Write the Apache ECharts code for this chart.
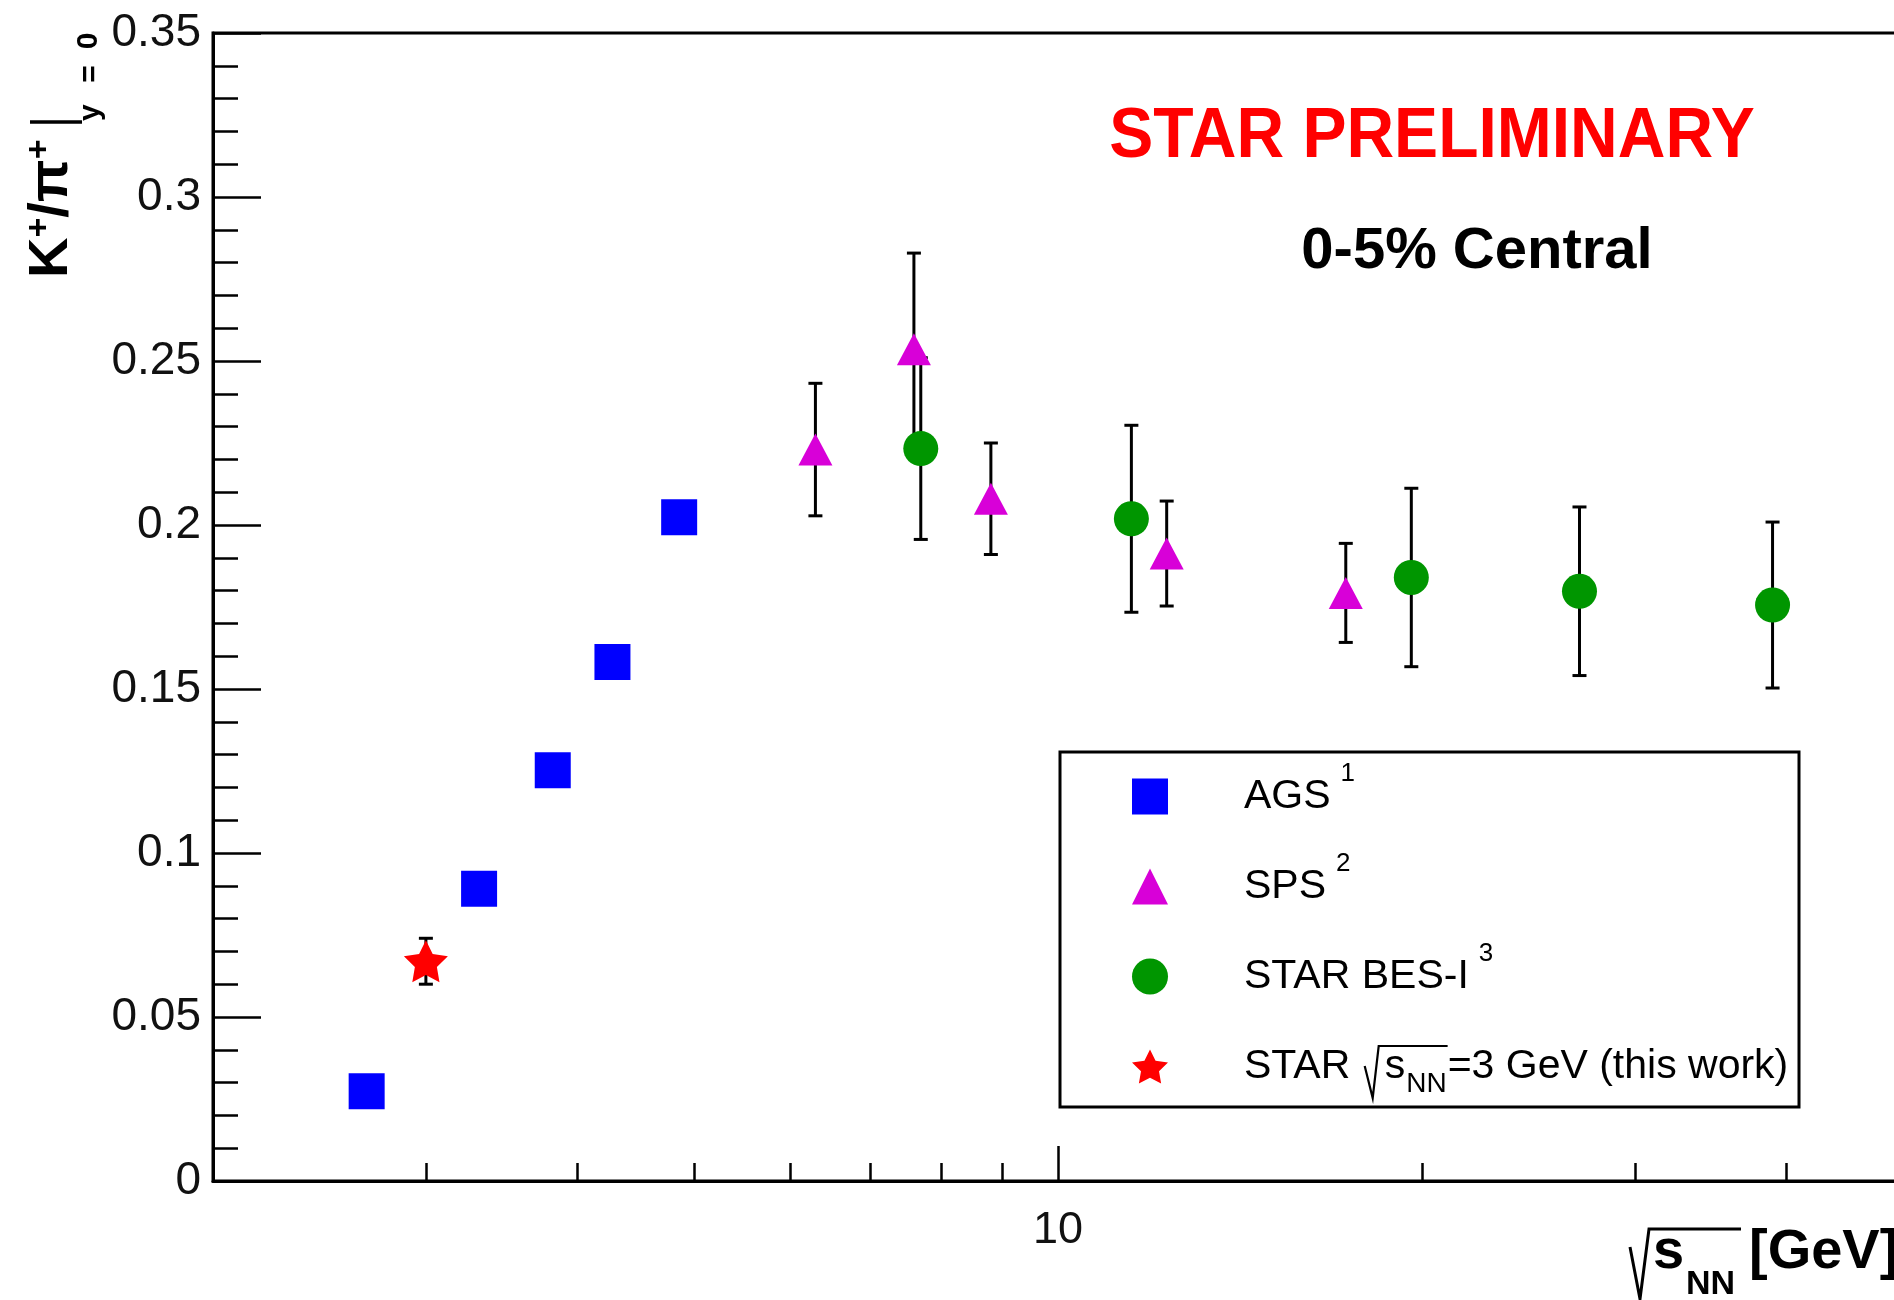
<!DOCTYPE html>
<html>
<head>
<meta charset="utf-8">
<script src="https://cdn.jsdelivr.net/npm/echarts@6/dist/echarts.min.js"></script>
<style>
  html, body { margin: 0; padding: 0; background: #fff; }
  #chart { width: 1894px; height: 1300px; }
</style>
</head>
<body>
<div id="chart"></div>
<script>
// K+/pi+ at mid-rapidity vs collision energy, 0-5% central

// AGS
const agsEnergy = [2.68, 3.32, 3.82, 4.28, 4.86];
const agsRatio  = [0.0274, 0.0891, 0.1252, 0.1582, 0.2024];

// SPS
const spsEnergy = [6.3, 7.6, 8.8, 12.3, 17.3];
const spsRatio  = [0.223, 0.2536, 0.208, 0.1913, 0.1793];
const spsError  = [0.0202, 0.0293, 0.0170, 0.0160, 0.0151];

// STAR BES-I
const besEnergy = [7.7, 11.5, 19.6, 27, 39];
const besRatio  = [0.2233, 0.2019, 0.1840, 0.1798, 0.1756];
const besError  = [0.0277, 0.0285, 0.0272, 0.0257, 0.0253];

// STAR fixed target, 3 GeV
const fxtEnergy = [3.0];
const fxtRatio  = [0.0670];
const fxtError  = [0.0070];

// axis ticks
const xMajorTicks = [10];
const xMinorTicks = [3, 4, 5, 6, 7, 8, 9, 20, 30, 40];
const yMin = 0, yMax = 0.35, yStep = 0.05;

// legend entries and their reference marks
const legendNames = ['AGS', 'SPS', 'STAR BES-I', 'STAR 3 GeV'];
const legendRefs = ['1', '2', '3'];

const FONT = '"Liberation Sans", Arial, Helvetica, sans-serif';
const STAR_PATH = 'path://M50,0 L64.69,29.78 L97.55,34.55 L73.78,57.73 L79.39,90.45 L50,75 L20.61,90.45 L26.22,57.73 L2.45,34.55 L35.31,29.78 Z';

const pairs = (xs, ys) => xs.map((x, i) => [x, ys[i]]);
const triples = (xs, ys, es) => xs.map((x, i) => [x, ys[i], es[i]]);

function errorBars(params, api) {
  const x = api.value(0), y = api.value(1), e = api.value(2);
  const top = api.coord([x, y + e]);
  const bot = api.coord([x, y - e]);
  const hw = 7;
  const st = { stroke: '#000', lineWidth: 3 };
  return {
    type: 'group',
    children: [
      { type: 'line', shape: { x1: top[0], y1: top[1], x2: bot[0], y2: bot[1] }, style: st },
      { type: 'line', shape: { x1: top[0] - hw, y1: top[1], x2: top[0] + hw, y2: top[1] }, style: st },
      { type: 'line', shape: { x1: bot[0] - hw, y1: bot[1], x2: bot[0] + hw, y2: bot[1] }, style: st }
    ]
  };
}

// text measurement helper
const mctx = document.createElement('canvas').getContext('2d');
function textW(str, font) { mctx.font = font; return mctx.measureText(str).width; }

// legend layout
const LEG_LEFT = 1132, LEG_TOP = 776, LEG_ICON = 36, LEG_PITCH = 90, LEG_TEXT_H = 41;
const LEG_TEXT_X = LEG_LEFT + LEG_ICON + 5 + 71;
const legFont = '41px ' + FONT;
const supFont = '26px ' + FONT;
const nnFont = '28px ' + FONT;
const rowCenter = (i) => LEG_TOP + LEG_ICON / 2 + i * LEG_PITCH;
const sX = LEG_TEXT_X + textW('STAR ', legFont) + 23;
const nnX = sX + textW('s', legFont) + 1;
const nnW = textW('NN', nnFont);

const legendLabels = {
  'AGS': '{t|AGS}',
  'SPS': '{t|SPS}',
  'STAR BES-I': '{t|STAR BES-I}',
  'STAR 3 GeV': '{t|STAR }{s|s}{r|=3 GeV (this work)}'
};

function legendMarks() {
  const els = [];
  ['AGS', 'SPS', 'STAR BES-I'].forEach((n, i) => {
    els.push({ type: 'text', z: 10, x: LEG_TEXT_X + textW(n, legFont) + 10, y: rowCenter(i) - 20,
      style: { text: legendRefs[i], font: supFont, fill: '#000', align: 'left', verticalAlign: 'middle' } });
  });
  const c = rowCenter(3);
  els.push({ type: 'text', z: 10, x: nnX, y: c + 20,
    style: { text: 'NN', font: nnFont, fill: '#000', align: 'left', verticalAlign: 'middle' } });
  els.push({ type: 'polyline', z: 10,
    shape: { points: [[sX - 20, c + 2], [sX - 12, c + 34], [sX - 6, c - 18], [nnX + nnW + 1, c - 18]] },
    style: { stroke: '#000', lineWidth: 2.2, fill: null } });
  return els;
}

function yTitle() {
  const big = 'bold 56px ' + FONT;
  const sup = 'bold 34px ' + FONT;
  const sub = 'bold 30px ' + FONT;
  const els = [];
  const rot = Math.PI / 2;
  let y = 278;
  const add = (txt, font, cx, align) => {
    els.push({ type: 'text', x: cx, y: y, rotation: rot, z: 10,
      style: { text: txt, font: font, fill: '#000', align: align || 'left', verticalAlign: 'middle' } });
  };
  add('K', big, 52); y -= textW('K', big);
  add('+', sup, 40); y -= textW('+', sup);
  add('/\u03c0', big, 52); y -= textW('/\u03c0', big);
  add('+', sup, 40); y -= textW('+', sup);
  els.push({ type: 'line', z: 10, shape: { x1: 30, y1: 122, x2: 82, y2: 122 }, style: { stroke: '#000', lineWidth: 3.5 } });
  y = 121; add('y', sub, 91);
  y = 74; add('=', sub, 91, 'center');
  y = 41; add('0', sub, 89, 'center');
  return els;
}

const chart = echarts.init(document.getElementById('chart'), null, { renderer: 'canvas' });

const axisLineStyle = { color: '#000', width: 3 };
const tickStyle = { color: '#000', width: 2.5 };

chart.setOption({
  animation: false,
  backgroundColor: '#fff',
  textStyle: { fontFamily: FONT },
  grid: {
    left: 213, top: 33, right: -9, bottom: 119,
    show: true, borderColor: '#000', borderWidth: 3,
    containLabel: false, outerBoundsMode: 'none'
  },
  xAxis: [
    {
      type: 'log', logBase: 10, min: 2, max: 50, position: 'bottom',
      axisLine: { show: true, onZero: false, lineStyle: axisLineStyle },
      axisTick: { show: true, inside: true, length: 35, customValues: xMajorTicks, lineStyle: tickStyle },
      axisLabel: { show: true, customValues: xMajorTicks, fontSize: 45, color: '#111', fontFamily: FONT, margin: 27 },
      splitLine: { show: false }
    },
    {
      type: 'log', logBase: 10, min: 2, max: 50, position: 'bottom',
      axisLine: { show: false, onZero: false },
      axisTick: { show: true, inside: true, length: 18, customValues: xMinorTicks, lineStyle: tickStyle },
      axisLabel: { show: false },
      splitLine: { show: false }
    }
  ],
  yAxis: [
    {
      type: 'value', min: yMin, max: yMax, interval: yStep, position: 'left',
      axisLine: { show: true, onZero: false, lineStyle: axisLineStyle },
      axisTick: { show: true, inside: true, length: 48, lineStyle: tickStyle },
      minorTick: { show: true, splitNumber: 5, length: 25, lineStyle: tickStyle },
      axisLabel: { fontSize: 46, color: '#111', fontFamily: FONT, margin: 12 },
      splitLine: { show: false }
    },
    {
      // long ticks at the labelled values
      type: 'value', min: yMin, max: yMax, interval: yStep, position: 'left',
      axisLine: { show: false, onZero: false },
      axisTick: { show: true, inside: true, length: 48, lineStyle: tickStyle },
      minorTick: { show: false },
      axisLabel: { show: false },
      splitLine: { show: false }
    }
  ],
  legend: {
    show: true, orient: 'vertical', left: LEG_LEFT, top: LEG_TOP, padding: 0,
    itemWidth: LEG_ICON, itemHeight: LEG_ICON, itemGap: LEG_PITCH - LEG_TEXT_H, selectedMode: false,
    data: legendNames,
    formatter: (n) => legendLabels[n],
    textStyle: {
      fontFamily: FONT, fontSize: 41, lineHeight: LEG_ICON, color: '#000',
      rich: {
        t: { fontFamily: FONT, fontSize: 41, lineHeight: LEG_ICON, color: '#000', padding: [0, 0, 0, 71] },
        s: { fontFamily: FONT, fontSize: 41, lineHeight: LEG_ICON, color: '#000', padding: [0, 0, 0, 23] },
        r: { fontFamily: FONT, fontSize: 41, lineHeight: LEG_ICON, color: '#000', padding: [0, 0, 0, nnW + 2] }
      }
    }
  },
  graphic: [
    // legend frame
    { type: 'rect', z: 0, shape: { x: 1060, y: 752, width: 739, height: 355 },
      style: { fill: '#fff', stroke: '#000', lineWidth: 3 } },
    // headline texts
    { type: 'text', x: 1432, y: 137, scaleY: 1.08, z: 10,
      style: { text: 'STAR PRELIMINARY', font: 'bold 66px ' + FONT, fill: '#ff0000', align: 'center', verticalAlign: 'middle' } },
    { type: 'text', x: 1477, y: 252, z: 10,
      style: { text: '0-5% Central', font: 'bold 58px ' + FONT, fill: '#000', align: 'center', verticalAlign: 'middle' } },
    // x-axis title: sqrt(s_NN) [GeV]
    { type: 'polyline', z: 10, shape: { points: [[1630, 1247], [1640, 1299], [1649, 1229], [1741, 1229]] },
      style: { stroke: '#000', lineWidth: 3, fill: null } },
    { type: 'text', x: 1653, y: 1253, z: 10,
      style: { text: 's', font: 'bold 56px ' + FONT, fill: '#000', align: 'left', verticalAlign: 'middle' } },
    { type: 'text', x: 1686, y: 1285, z: 10,
      style: { text: 'NN', font: 'bold 34px ' + FONT, fill: '#000', align: 'left', verticalAlign: 'middle' } },
    { type: 'text', x: 1749, y: 1253, z: 10,
      style: { text: '[GeV]', font: 'bold 56px ' + FONT, fill: '#000', align: 'left', verticalAlign: 'middle' } }
  ].concat(yTitle(), legendMarks()),
  series: [
    { type: 'custom', name: 'SPS err', renderItem: errorBars, z: 2, encode: { x: 0, y: 1 },
      data: triples(spsEnergy, spsRatio, spsError) },
    { type: 'custom', name: 'BES err', renderItem: errorBars, z: 2, encode: { x: 0, y: 1 },
      data: triples(besEnergy, besRatio, besError) },
    { type: 'custom', name: 'FXT err', renderItem: errorBars, z: 2, encode: { x: 0, y: 1 },
      data: triples(fxtEnergy, fxtRatio, fxtError) },
    { type: 'scatter', name: 'AGS', z: 3, symbol: 'rect', symbolSize: 36,
      itemStyle: { color: '#0000ff', opacity: 1 }, data: pairs(agsEnergy, agsRatio) },
    { type: 'scatter', name: 'SPS', z: 3, symbol: 'triangle', symbolSize: [34, 32],
      itemStyle: { color: '#d800d8', opacity: 1 }, data: pairs(spsEnergy, spsRatio) },
    { type: 'scatter', name: 'STAR BES-I', z: 4, symbol: 'circle', symbolSize: 35,
      itemStyle: { color: '#009600', opacity: 1 }, data: pairs(besEnergy, besRatio) },
    { type: 'scatter', name: 'STAR 3 GeV', z: 4, symbol: STAR_PATH, symbolSize: [44, 42],
      itemStyle: { color: '#ff0000', opacity: 1 }, data: pairs(fxtEnergy, fxtRatio) }
  ]
});
</script>
</body>
</html>
